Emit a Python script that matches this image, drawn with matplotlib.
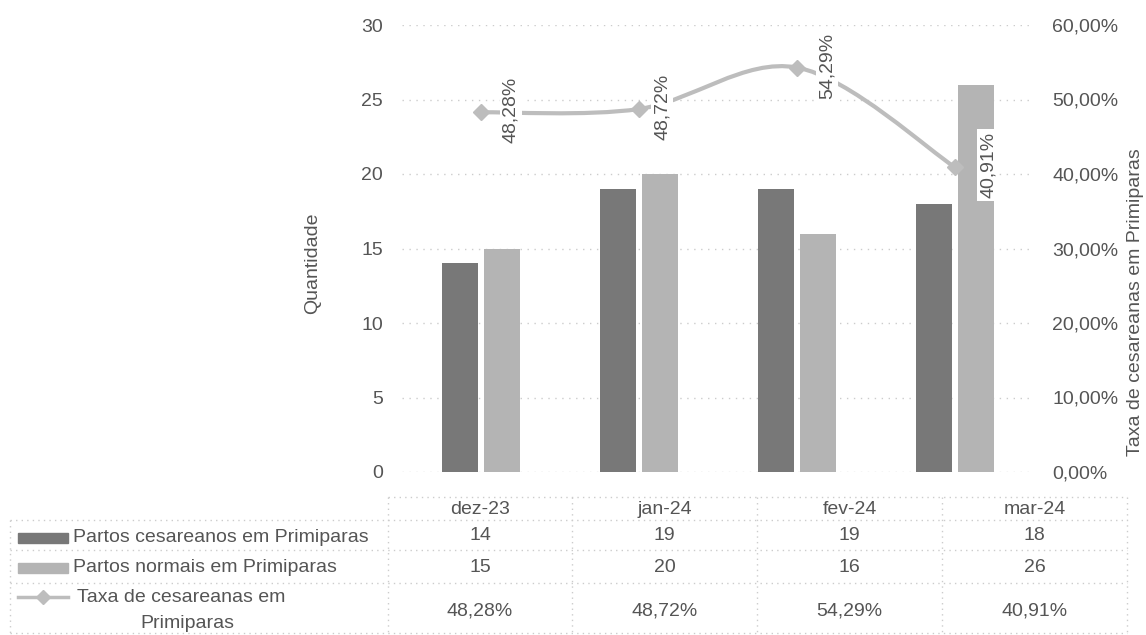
import matplotlib
matplotlib.use("Agg")
import matplotlib.pyplot as plt
from matplotlib.lines import Line2D
from matplotlib.patches import Rectangle, PathPatch
from matplotlib.path import Path
import numpy as np

# ---- data ----
categories = ["dez-23", "jan-24", "fev-24", "mar-24"]
cesareos = [14, 19, 19, 18]
normais = [15, 20, 16, 26]
taxa = [0.4828, 0.4872, 0.5429, 0.4091]
series_names = ["Partos cesareanos em Primiparas", "Partos normais em Primiparas",
                "Taxa de cesareanas em\nPrimiparas"]
left_ticks = [0, 5, 10, 15, 20, 25, 30]
right_ticks = [0.0, 0.1, 0.2, 0.3, 0.4, 0.5, 0.6]

def pct(v):
    return f"{v*100:.2f}%".replace(".", ",")

plt.rcParams['font.family'] = ['Liberation Sans', 'DejaVu Sans']
TXT = '#555555'
DARK = '#787878'
LIGHT = '#b4b4b4'
LINEC = '#bdbdbd'
GRID = '#cccccc'
FS = 14

W, H = 1146, 635
fig = plt.figure(figsize=(W/100, H/100), dpi=100)

def fx(x):
    return x / W

def fy(y):
    return 1 - y / H

ax = fig.add_axes([fx(402), fy(472), fx(1034) - fx(402), fy(25) - fy(472)])
ax2 = ax.twinx()

x = np.arange(len(categories))
bw = 0.228
off = 0.13
ax.bar(x - off, cesareos, bw, color=DARK, zorder=2)
ax.bar(x + off, normais, bw, color=LIGHT, zorder=2)
ax.set_xlim(-0.5, len(categories) - 0.5)
ax.set_ylim(0, 30)
ax.set_yticks(left_ticks)
ax.set_yticklabels([str(t) for t in left_ticks])
ax.set_xticks([])
ax.yaxis.grid(True, linestyle=(0, (1, 4)), color=GRID, linewidth=1.0)
ax.set_axisbelow(True)
ax.tick_params(axis='y', length=0, pad=13.5, labelsize=FS, labelcolor=TXT)

# smoothed line (Excel-style Bezier through the data points)
pts = np.column_stack([x, taxa]).astype(float)
ext = np.vstack([pts[0], pts, pts[-1]])
verts = [tuple(pts[0])]
codes = [Path.MOVETO]
for i in range(len(pts) - 1):
    p0, p1, p2, p3 = ext[i], ext[i + 1], ext[i + 2], ext[i + 3]
    c1 = p1 + (p2 - p0) / 6
    c2 = p2 - (p3 - p1) / 6
    verts += [tuple(c1), tuple(c2), tuple(p2)]
    codes += [Path.CURVE4] * 3
ax2.add_patch(PathPatch(Path(verts, codes), fc='none', ec=LINEC, lw=3, zorder=3,
                        capstyle='round'))
ax2.plot(x, taxa, linestyle='none', color=LINEC, marker='D', ms=8, zorder=4)
ax2.set_ylim(0, 0.6)
ax2.set_yticks(right_ticks)
ax2.set_yticklabels([pct(t) for t in right_ticks])
ax2.tick_params(axis='y', length=0, pad=13, labelsize=FS, labelcolor=TXT)
label_offsets = [30, 23, 30, 33]
for xi, v, o in zip(x, taxa, label_offsets):
    ax2.annotate(pct(v), (xi, v), xytext=(o, 2), textcoords='offset pixels',
                 rotation=90, ha='center', va='center', fontsize=FS, color=TXT,
                 bbox=dict(boxstyle='square,pad=0.15', fc='white', ec='none'),
                 zorder=5)

for a in (ax, ax2):
    for s in a.spines.values():
        s.set_visible(False)

fig.text(fx(313), fy(263), "Quantidade", rotation=90, ha='center', va='center',
         fontsize=FS, color=TXT)
fig.text(fx(1135), fy(302), "Taxa de cesareanas em Primiparas", rotation=90,
         ha='center', va='center', fontsize=FS, color=TXT)

# ---- data table ----
col_edges = [388, 572, 757, 942, 1127]
col_centers = [(col_edges[i] + col_edges[i+1]) / 2 for i in range(4)]
row_lines = [497, 520, 550, 583, 633]
ls = dict(color=GRID, lw=1.0, linestyle=(0, (1, 3)))

fig.add_artist(Line2D([fx(388), fx(1127)], [fy(497), fy(497)], **ls))
for yl in row_lines[1:]:
    fig.add_artist(Line2D([fx(10), fx(1127)], [fy(yl), fy(yl)], **ls))
fig.add_artist(Line2D([fx(10), fx(10)], [fy(520), fy(633)], **ls))
for xe in col_edges:
    fig.add_artist(Line2D([fx(xe), fx(xe)], [fy(497), fy(633)], **ls))

for cx, cat in zip(col_centers, categories):
    fig.text(fx(cx), fy(510), cat, ha='center', va='center', fontsize=FS, color=TXT)
row_y = [536, 568, 611]
for cx, a, b, t in zip(col_centers, cesareos, normais, taxa):
    fig.text(fx(cx), fy(row_y[0]), str(a), ha='center', va='center', fontsize=FS, color=TXT)
    fig.text(fx(cx), fy(row_y[1]), str(b), ha='center', va='center', fontsize=FS, color=TXT)
    fig.text(fx(cx), fy(row_y[2]), pct(t), ha='center', va='center', fontsize=FS, color=TXT)

# legend keys
fig.add_artist(Rectangle((fx(18), fy(543)), fx(50), fy(533) - fy(543), color=DARK))
fig.add_artist(Rectangle((fx(18), fy(573)), fx(50), fy(563) - fy(573), color=LIGHT))
fig.add_artist(Line2D([fx(18), fx(68)], [fy(597), fy(597)], color=LINEC, lw=2.5))
fig.add_artist(Line2D([fx(43)], [fy(597)], color=LINEC, marker='D', ms=7))

fig.text(fx(73), fy(538), series_names[0], ha='left', va='center', fontsize=FS, color=TXT)
fig.text(fx(73), fy(568), series_names[1], ha='left', va='center', fontsize=FS, color=TXT)
l1, l2 = series_names[2].split("\n")
fig.text(fx(77), fy(597), l1, ha='left', va='center', fontsize=FS, color=TXT)
fig.text(fx(187), fy(623), l2, ha='center', va='center', fontsize=FS, color=TXT)

fig.savefig("out.png", dpi=100)
